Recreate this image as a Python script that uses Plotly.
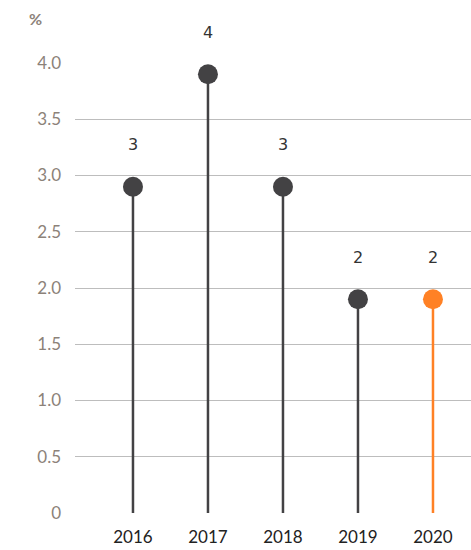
import plotly.graph_objects as go

years = [2016, 2017, 2018, 2019, 2020]
values = [2.9, 3.9, 2.9, 1.9, 1.9]
labels = ["3", "4", "3", "2", "2"]
colors = ["#434244", "#434244", "#434244", "#434244", "#ff8125"]
y_ticks = [0, 0.5, 1.0, 1.5, 2.0, 2.5, 3.0, 3.5, 4.0]
y_tick_text = ["0", "0.5", "1.0", "1.5", "2.0", "2.5", "3.0", "3.5", "4.0"]

fig = go.Figure()
for x, v, c in zip(years, values, colors):
    fig.add_trace(go.Scatter(x=[x, x], y=[0, v], mode="lines",
                             line=dict(color=c, width=2.5), hoverinfo="skip"))
fig.add_trace(go.Scatter(x=years, y=values, mode="markers",
                         marker=dict(color=colors, size=20), cliponaxis=False))
for x, v, t in zip(years, values, labels):
    fig.add_annotation(x=x, y=v, text=t, showarrow=False, yshift=42,
                       font=dict(family="DejaVu Sans", size=16, color="#333333"))
fig.add_annotation(xref="paper", yref="paper", x=-0.10, y=1.0, yshift=33,
                   text="<b>%</b>", showarrow=False, xanchor="center", yanchor="bottom",
                   font=dict(family="Lato", size=16, color="#8c8279"))

fig.update_layout(
    width=471, height=550, showlegend=False,
    margin=dict(l=75, r=0, t=63, b=37),
    plot_bgcolor="white", paper_bgcolor="white",
    xaxis=dict(range=[2015.227, 2020.507], tickvals=years, ticktext=[str(y) for y in years],
               showgrid=False, zeroline=False, showline=False, automargin=False,
               ticklabelstandoff=12,
               tickfont=dict(family="Lato", size=17, color="#222222")),
    yaxis=dict(range=[0, 4.0], tickvals=y_ticks, ticktext=y_tick_text,
               showgrid=True, gridcolor="#bdbdbd", gridwidth=1, automargin=False,
               zeroline=False, showline=False, ticklabelstandoff=13,
               tickfont=dict(family="Lato", size=17, color="#8c8279")),
)
fig.write_html("out.html", config={"displayModeBar": False},
               post_script="document.body.style.margin='0px';")
